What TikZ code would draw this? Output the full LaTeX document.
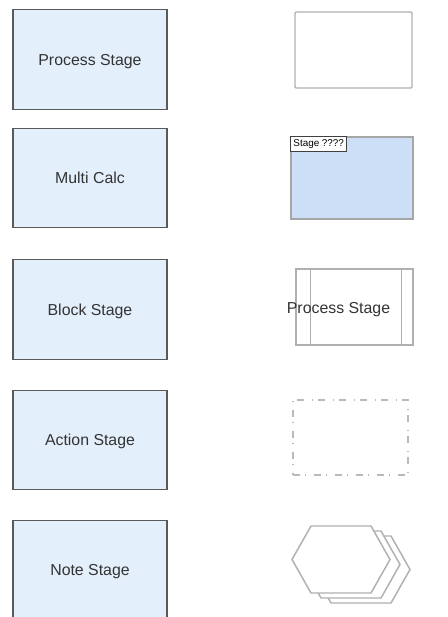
\documentclass[tikz,border=0pt]{standalone}
\usepackage{fontspec}
\setmainfont{Liberation Sans}
\usepackage{tikz}
\definecolor{stagefill}{HTML}{E4EFFC}
\definecolor{stageedge}{HTML}{5A5A5A}
\definecolor{calcfill}{HTML}{CCDFF7}
\definecolor{shapeedge}{HTML}{B0B0B0}
\definecolor{labeltext}{HTML}{333333}

\begin{document}
\begin{tikzpicture}[x=0.75pt, y=-0.75pt,
	stage/.style = {draw=stageedge, line width=1pt, fill=stagefill, minimum width=115.5pt, minimum height=74.6pt, text=labeltext, text depth=0pt, font=\fontsize{11.9}{14}\selectfont},
	plain/.style = {draw=shapeedge, line width=1.1pt, minimum width=87.75pt, minimum height=57pt},
	txt/.style = {text=labeltext, font=\fontsize{11.9}{14}\selectfont, text depth=0pt, inner sep=0pt}]
			\useasboundingbox (0,0) rectangle (448,617);
			
			% left column
			\node[stage] (process) at (90,59.5) {Process Stage};
			\node[stage] (multi) at (90,178) {Multi Calc};
			\node[stage] (block) at (90,309.5) {Block Stage};
			\node[stage] (action) at (90,440) {Action Stage};
			\node[stage] (note) at (90,570) {Note Stage};
			
			% right column
			\node[plain, rounded corners=0.8pt] (r1) at (353.5,50) {};
			
			\node[plain, fill=calcfill, draw=gray!70, minimum width=91.5pt, minimum height=61.5pt] (r2) at (352,178) {};
			\node[draw=black!75, line width=0.8pt, fill=white, anchor=north west, inner sep=2pt, font=\fontsize{7.4}{8}\selectfont] (tag) at (r2.north west) {Stage ????};
			
			\node[plain] (r3) at (354.5,307) {};
			\draw[shapeedge, line width=1.1pt] ([xshift=11.25pt]r3.north west) -- ([xshift=11.25pt]r3.south west);
			\draw[shapeedge, line width=1.1pt] ([xshift=-9pt]r3.north east) -- ([xshift=-9pt]r3.south east);
			\node[txt] (r3text) at (338.5,308) {Process Stage};
			
			\node[plain, draw=gray!55, dash pattern=on 5.25pt off 4pt on 0.75pt off 5.75pt, minimum width=86.25pt, minimum height=56.25pt] (r4) at (350.5,437.5) {};
			
			\foreach \d in {20,10,0}
				\draw[shapeedge, line width=1.1pt, fill=white, shift={(\d,\d/2)}]
					(292,559.5) -- (311,526) -- (371,526) -- (390,559.5) -- (371,593) -- (311,593) -- cycle;
			
			\end{tikzpicture}
\end{document}
